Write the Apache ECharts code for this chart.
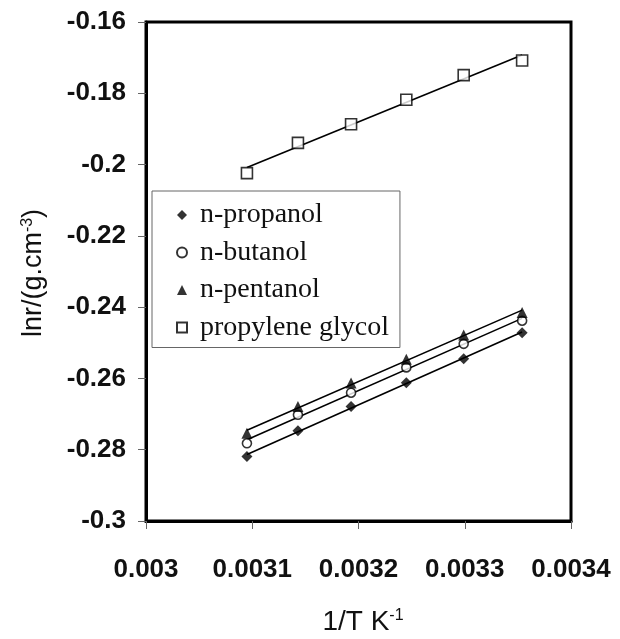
<!DOCTYPE html>
<html>
<head>
<meta charset="utf-8">
<script src="https://cdn.jsdelivr.net/npm/echarts@6/dist/echarts.min.js"></script>
<style>
html,body{margin:0;padding:0;background:#fff;}
#chart{width:620px;height:639px;}
</style>
</head>
<body>
<div id="chart"></div>
<script>
// 1/T values (K^-1)
var invT = [0.003095, 0.003143, 0.003193, 0.003245, 0.003299, 0.003354];
// ln r values
var propanol = [-0.2819, -0.2747, -0.2679, -0.2612, -0.2545, -0.2472];
var butanol = [-0.2782, -0.2702, -0.2640, -0.2569, -0.2503, -0.2438];
var pentanol = [-0.2754, -0.2679, -0.2613, -0.2546, -0.2478, -0.2415];
var propyleneGlycol = [-0.2024, -0.1939, -0.1887, -0.1818, -0.1749, -0.1708];
var seriesNames = ['n-propanol', 'n-butanol', 'n-pentanol', 'propylene glycol'];
var xTicks = [0.003, 0.0031, 0.0032, 0.0033, 0.0034];
var yTicks = [-0.3, -0.28, -0.26, -0.24, -0.22, -0.2, -0.18, -0.16];

function pairs(xs, ys) { return xs.map(function (x, i) { return [x, ys[i]]; }); }
function fitLine(xs, ys) {
  var n = xs.length, sx = 0, sy = 0, sxx = 0, sxy = 0;
  for (var i = 0; i < n; i++) { sx += xs[i]; sy += ys[i]; sxx += xs[i] * xs[i]; sxy += xs[i] * ys[i]; }
  var b = (n * sxy - sx * sy) / (n * sxx - sx * sx);
  var a = (sy - b * sx) / n;
  var x0 = xs[0], x1 = xs[n - 1];
  return [[x0, a + b * x0], [x1, a + b * x1]];
}

var allY = [propanol, butanol, pentanol, propyleneGlycol];
var symbols = ['diamond', 'circle', 'triangle', 'rect'];
var sizes = [11, 9, 11, 11];
var filled = [true, false, true, false];

var series = [];
allY.forEach(function (ys, i) {
  series.push({
    type: 'line', data: fitLine(invT, ys), showSymbol: false, symbol: 'none',
    lineStyle: { color: '#000', width: 1.6 }, z: 2, silent: true, legendHoverLink: false
  });
});
allY.forEach(function (ys, i) {
  series.push({
    name: seriesNames[i], type: 'scatter', data: pairs(invT, ys),
    symbol: symbols[i], symbolSize: sizes[i], z: 5,
    itemStyle: filled[i] ? { color: '#000' } : { color: '#fff', borderColor: '#000', borderWidth: 1.6 }
  });
});

var chart = echarts.init(document.getElementById('chart'), null, { renderer: 'canvas' });
chart.setOption({
  animation: false,
  backgroundColor: '#fff',
  grid: { left: 146, right: 49, top: 22, bottom: 118, show: true, borderColor: '#000', borderWidth: 3 },
  xAxis: {
    type: 'value', min: xTicks[0], max: xTicks[xTicks.length - 1], interval: 0.0001,
    axisLine: { show: true, onZero: false, lineStyle: { color: '#000', width: 3 } },
    axisTick: { show: true, length: 8, lineStyle: { color: '#666', width: 1 } },
    splitLine: { show: false },
    axisLabel: { margin: 36, color: '#111', fontFamily: 'Liberation Sans, Arial', fontWeight: 'bold', fontSize: 26 }
  },
  yAxis: {
    type: 'value', min: yTicks[0], max: yTicks[yTicks.length - 1], interval: 0.02,
    axisLine: { show: true, onZero: false, lineStyle: { color: '#000', width: 3 } },
    axisTick: { show: true, length: 8, lineStyle: { color: '#666', width: 1 } },
    splitLine: { show: false },
    axisLabel: { margin: 20, color: '#111', fontFamily: 'Liberation Sans, Arial', fontWeight: 'bold', fontSize: 26 }
  },
  legend: {
    data: seriesNames, orient: 'vertical', left: 152, top: 191,
    backgroundColor: '#fff', borderColor: '#666', borderWidth: 1,
    padding: [10, 11, 6, 24], itemWidth: 10, itemHeight: 10, itemGap: 9.5,
    textStyle: { fontFamily: 'Liberation Serif, Times New Roman', fontSize: 28, color: '#111', lineHeight: 28, padding: [0, 0, 0, 8] }
  },
  graphic: [
    {
      type: 'text', x: 34, y: 273, rotation: Math.PI / 2,
      style: {
        text: '{a|lnr/(g.cm}{s|-3}{a|)}', align: 'center', verticalAlign: 'middle',
        rich: {
          a: { fontFamily: 'Liberation Sans, Arial', fontSize: 27, fill: '#111' },
          s: { fontFamily: 'Liberation Sans, Arial', fontSize: 16, fill: '#111', verticalAlign: 'top', padding: [0, 0, 13, 0] }
        }
      }
    },
    {
      type: 'text', x: 363, y: 622,
      style: {
        text: '{a|1/T K}{s|-1}', align: 'center', verticalAlign: 'middle',
        rich: {
          a: { fontFamily: 'Liberation Sans, Arial', fontSize: 28, fill: '#111' },
          s: { fontFamily: 'Liberation Sans, Arial', fontSize: 16, fill: '#111', verticalAlign: 'top', padding: [0, 0, 13, 0] }
        }
      }
    }
  ],
  series: series
});
</script>
</body>
</html>
